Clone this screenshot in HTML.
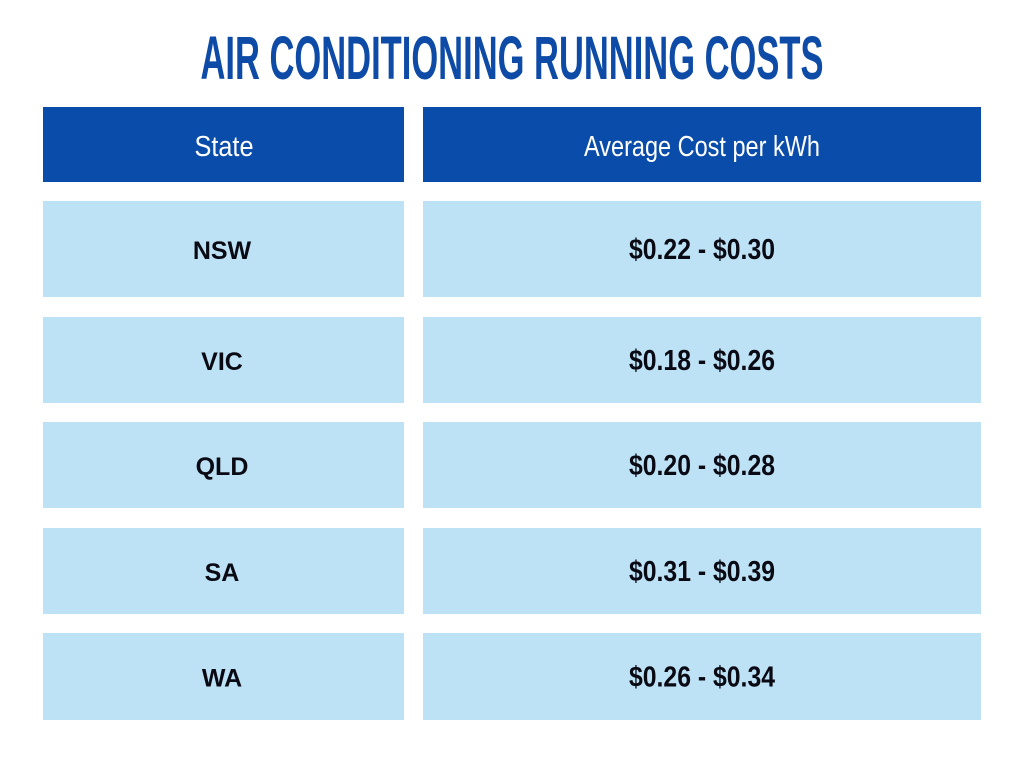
<!DOCTYPE html>
<html><head><meta charset="utf-8"><style>
html,body{margin:0;padding:0;background:#fff;width:1024px;height:768px;overflow:hidden}
svg{display:block}
</style></head><body>
<svg id="t" width="1024" height="768">
<text x="512" y="79" text-anchor="middle" textLength="623" lengthAdjust="spacingAndGlyphs" font-family="'Liberation Sans Narrow','Liberation Sans',sans-serif" font-weight="bold" font-size="61" fill="#0d4ba7">AIR CONDITIONING RUNNING COSTS</text>
<rect x="43" y="107" width="361" height="75" fill="#0a4ca9"/>
<rect x="423" y="107" width="558" height="75" fill="#0a4ca9"/>
<text x="224" y="156" text-anchor="middle" textLength="59" lengthAdjust="spacingAndGlyphs" font-family="'Liberation Sans Narrow','Liberation Sans',sans-serif" font-size="29" fill="#fff">State</text>
<text x="702" y="156" text-anchor="middle" textLength="236" lengthAdjust="spacingAndGlyphs" font-family="'Liberation Sans Narrow','Liberation Sans',sans-serif" font-size="29" fill="#fff">Average Cost per kWh</text>
</svg>
<script>
const states = ["NSW","VIC","QLD","SA","WA"];
const lowCosts = [0.22,0.18,0.20,0.31,0.26];
const highCosts = [0.30,0.26,0.28,0.39,0.34];
const svg = document.getElementById('t');
const NS = 'http://www.w3.org/2000/svg';
const rowTops = [201,317,422,528,633];
const rowH = [96,86,86,86,87];
function mk(tag, attrs){const e=document.createElementNS(NS,tag);for(const k in attrs)e.setAttribute(k,attrs[k]);svg.appendChild(e);return e;}
states.forEach((s,i)=>{
  const y=rowTops[i], h=rowH[i], cy=y+h/2+10;
  const r1=mk('rect',{x:43,y:y,width:361,height:h,fill:'#bee2f5'});
  
  
  const r2=mk('rect',{x:423,y:y,width:558,height:h,fill:'#bee2f5'});
  
  
  const t1=mk('text',{x:222,y:cy,'text-anchor':'middle','font-family':"'Liberation Sans',sans-serif",'font-weight':'bold','font-size':'25',fill:'#0a0a14'});
  t1.textContent=s;
  
  
  const t2=mk('text',{x:702,y:cy,'text-anchor':'middle',textLength:146,lengthAdjust:'spacingAndGlyphs','font-family':"'Liberation Sans Narrow','Liberation Sans',sans-serif",'font-weight':'bold','font-size':'29',fill:'#0a0a14'});
  t2.textContent='$'+lowCosts[i].toFixed(2)+' - $'+highCosts[i].toFixed(2);
  
  
});
</script>
</body></html>
